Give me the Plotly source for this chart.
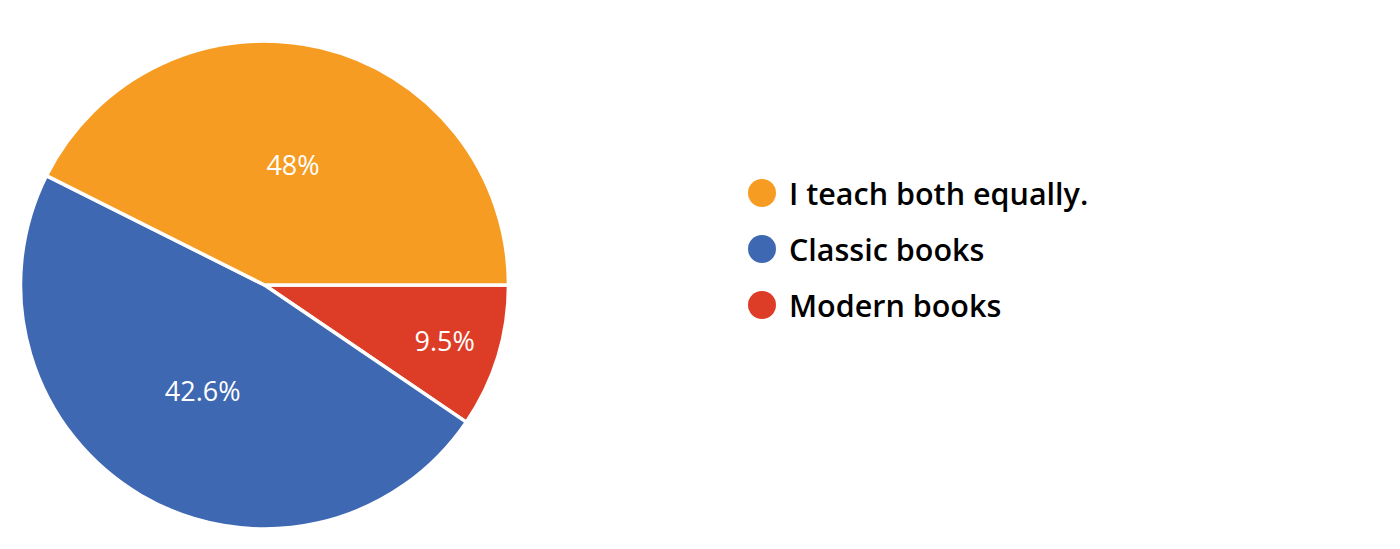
import plotly.graph_objects as go

categories = ["I teach both equally.", "Classic books", "Modern books"]
slice_shares = [42.6, 47.9, 9.5]          # angular share of each slice as drawn
slice_labels = ["48%", "42.6%", "9.5%"]   # percentage text printed on each slice
colors = ["#F79C22", "#3E68B2", "#DD3D27"]

OFF = 8                      # default page body margin
W, H = 1400 - 2 * OFF, 549 - 2 * OFF
cx, cy, r = 264.5 - OFF, 285.0 - OFF, 244.0

def px(x):
    return x / W

def py(y):
    return (H - y) / H

fig = go.Figure()
fig.add_trace(go.Pie(
    labels=categories[::-1],
    values=slice_shares[::-1],
    text=slice_labels[::-1],
    textinfo="text",
    textposition="inside",
    insidetextorientation="horizontal",
    textfont=dict(family="Open Sans", size=27, color="white"),
    marker=dict(colors=colors[::-1], line=dict(color="white", width=3.5)),
    sort=False,
    direction="clockwise",
    rotation=90,
    showlegend=False,
    hoverinfo="label+text",
    domain=dict(x=[px(cx - r), px(cx + r)], y=[py(cy + r), py(cy - r)]),
))

# Manual legend (large circular markers)
shapes = []
annotations = []
leg_x, leg_y0, leg_dy, dot_r = 762 - OFF, 193 - OFF, 56, 14
for i, (cat, col) in enumerate(zip(categories, colors)):
    y = leg_y0 + i * leg_dy
    shapes.append(dict(type="circle", xref="paper", yref="paper",
                       x0=px(leg_x - dot_r), x1=px(leg_x + dot_r),
                       y0=py(y + dot_r), y1=py(y - dot_r),
                       fillcolor=col, line=dict(width=0)))
    annotations.append(dict(text=cat, xref="paper", yref="paper",
                            x=px(787 - OFF), y=py(y), xanchor="left", yanchor="middle",
                            showarrow=False,
                            font=dict(family="Open Sans", size=30.5, weight=600,
                                      color="#000000")))

fig.update_layout(
    width=W, height=H,
    margin=dict(l=0, r=0, t=0, b=0),
    paper_bgcolor="white", plot_bgcolor="white",
    shapes=shapes, annotations=annotations,
)

fig.write_html("out.html")
